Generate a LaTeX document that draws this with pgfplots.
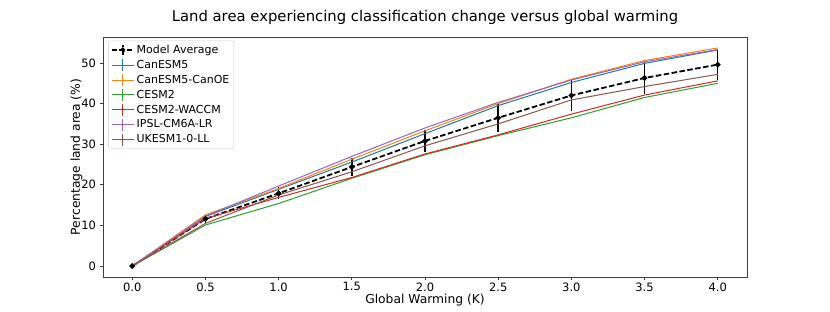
\documentclass[border=0pt]{standalone}
\usepackage{pgfplots}
\pgfplotsset{compat=1.18}
\usepackage{fontspec}
\setmainfont{DejaVu Sans}
\definecolor{cblue}{HTML}{1F77B4}
\definecolor{corange}{HTML}{FF7F0E}
\definecolor{cgreen}{HTML}{2CA02C}
\definecolor{cred}{HTML}{D62728}
\definecolor{cpurple}{HTML}{9467BD}
\definecolor{cbrown}{HTML}{8C564B}
\pgfplotsset{
  errleg/.style={legend image code/.code={
    \draw[##1] (0pt,0pt) -- (22pt,0pt);
    \draw[##1] (11pt,-6pt) -- (11pt,6pt);}},
}
\begin{document}
\begin{tikzpicture}[x=1pt,y=1pt]
\path[use as bounding box] (0,0) rectangle (830,312);
\begin{axis}[
  at={(103pt,35pt)}, anchor=south west,
  scale only axis, width=644pt, height=240pt,
  xmin=-0.2, xmax=4.2, ymin=-2.7, ymax=56.4,
  xtick={0,0.5,1,1.5,2,2.5,3,3.5,4},
  ytick={0,10,20,30,40,50},
  xticklabel style={yshift=1.5pt, /pgf/number format/.cd, fixed, fixed zerofill, precision=1},
  /pgf/number format/assume math mode=true,
  tick label style={font=\fontsize{11.5}{13}\selectfont},
  tick align=outside, tick pos=left,
  major tick length=3.5pt,
  axis line style={black!75, line width=0.8pt},
  every tick/.style={black!75, line width=0.8pt},
  title={Land area experiencing classification change versus global warming},
  title style={font=\fontsize{14.8}{17}\selectfont, yshift=2.5pt},
  xlabel={Global Warming (K)},
  ylabel={Percentage land area (\%)},
  label style={font=\fontsize{12.3}{14}\selectfont},
  xlabel style={yshift=3.5pt},
  ylabel style={yshift=-8pt},
  legend cell align=left,
  legend style={at={(0.008,0.985)}, anchor=north west, draw=black!20, rounded corners=2pt,
    font=\fontsize{11}{13.4}\selectfont, row sep=1.2pt, inner sep=2.5pt},
]
\addplot[black, dash pattern=on 5.5pt off 2.5pt, line width=1.8pt, mark=*, mark size=1.8pt, mark options={solid},
  legend image code/.code={
    \draw[black, dash pattern=on 5pt off 2.5pt, line width=1.8pt] (0pt,0pt) -- (22pt,0pt);
    \draw[black, line width=1.5pt] (11pt,-5pt) -- (11pt,5pt);
    \fill[black] (11pt,0pt) circle (1.8pt);},
  error bars/.cd, y dir=both, y explicit, error mark=none,
  error bar style={black, line width=1.5pt, solid}]
  table[x=x, y=y, y error=e] {
x y e
0 0 0
0.5 11.6 0.9
1.0 17.9 1.5
1.5 24.4 2.2
2.0 30.8 2.7
2.5 36.5 3.5
3.0 42.0 3.9
3.5 46.3 3.9
4.0 49.6 3.8
};
\addlegendentry{Model Average}
\addplot[cblue, line width=1pt, errleg] coordinates {(0,0) (0.5,12.2) (1,18.9) (1.5,25.6) (2,32.6) (2.5,39.5) (3,45.2) (3.5,49.9) (4,53.2)};
\addlegendentry{CanESM5}
\addplot[corange, line width=1pt, errleg] coordinates {(0,0) (0.5,12.6) (1,19.1) (1.5,26.3) (2,33.3) (2.5,40.0) (3,46.0) (3.5,50.6) (4,53.7)};
\addlegendentry{CanESM5-CanOE}
\addplot[cgreen, line width=1pt, errleg] coordinates {(0,0) (0.5,10.1) (1,15.4) (1.5,21.6) (2,27.4) (2.5,32.1) (3,36.5) (3.5,41.5) (4,45.0)};
\addlegendentry{CESM2}
\addplot[cred, line width=1pt, errleg] coordinates {(0,0) (0.5,11.7) (1,16.9) (1.5,21.8) (2,27.6) (2.5,32.3) (3,37.4) (3.5,42.1) (4,45.6)};
\addlegendentry{CESM2-WACCM}
\addplot[cpurple, line width=1pt, errleg] coordinates {(0,0) (0.5,12.3) (1,19.7) (1.5,27.0) (2,34.0) (2.5,40.3) (3,45.8) (3.5,50.3) (4,53.3)};
\addlegendentry{IPSL-CM6A-LR}
\addplot[cbrown, line width=1pt, errleg] coordinates {(0,0) (0.5,10.5) (1,17.5) (1.5,23.2) (2,29.6) (2.5,35.0) (3,40.9) (3.5,44.2) (4,47.2)};
\addlegendentry{UKESM1-0-LL}
\end{axis}
\end{tikzpicture}
\end{document}
